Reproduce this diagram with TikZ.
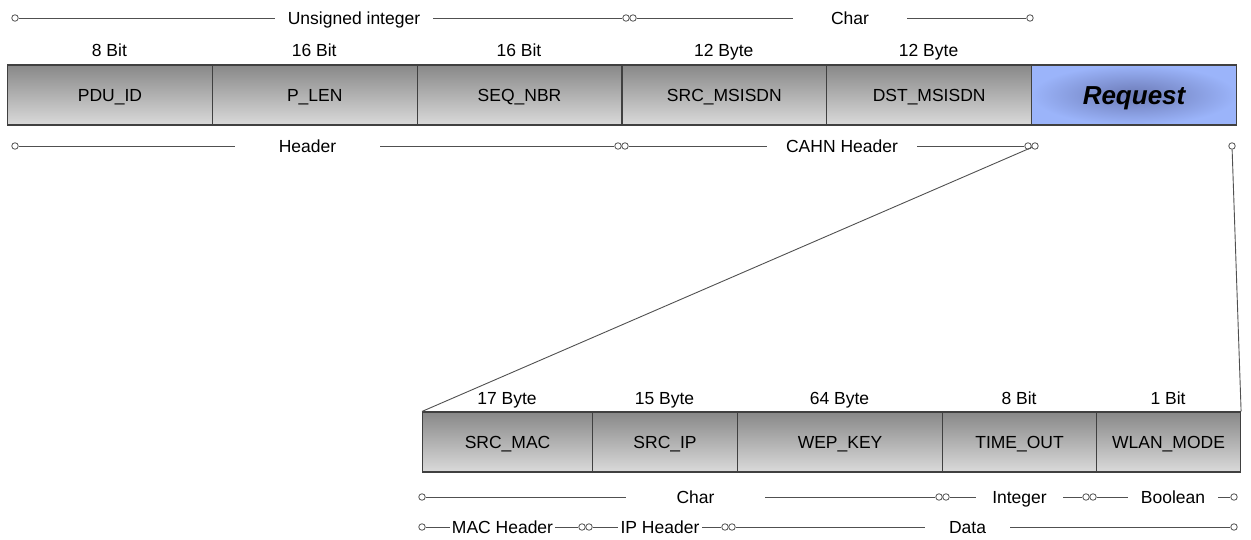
\documentclass[tikz,border=0pt]{standalone}
\usepackage{fontspec}
\setmainfont{Liberation Sans}
\usetikzlibrary{positioning}
\definecolor{framegray}{RGB}{64,64,64}
\definecolor{rulegray}{RGB}{80,80,80}
\definecolor{fieldtop}{RGB}{136,136,136}
\definecolor{fieldbottom}{RGB}{218,218,218}
\definecolor{reqouter}{RGB}{155,180,250}
\definecolor{reqinner}{RGB}{108,122,182}

\begin{document}
\begin{tikzpicture}[x=1pt,y=-1pt,
field/.style={draw=framegray,line width=1.1pt,top color=fieldtop,bottom color=fieldbottom,
  minimum height=60pt,inner sep=0pt,anchor=west,text height=12.5pt,text depth=0pt,
  font=\fontsize{17.5}{20}\selectfont},
reqfield/.style={field,inner color=reqinner,outer color=reqouter,text height=18.6pt,
  font=\fontsize{26}{30}\selectfont\bfseries\itshape},
sizelbl/.style={anchor=base,inner sep=0pt,font=\fontsize{17.5}{20}\selectfont},
span/.style={inner sep=0pt,text height=12.5pt,text depth=0pt,font=\fontsize{17.5}{20}\selectfont},
pin/.style={circle,draw=rulegray,fill=white,line width=0.8pt,inner sep=0pt,minimum size=6.5pt},
link/.style={draw=rulegray,line width=0.9pt}]
\useasboundingbox (0,0) rectangle (1251,540);

\node[field,minimum width=204.8pt] (pduid) at (7,95) {PDU\_ID};
\node[field,minimum width=204.8pt] (plen) at (211.8,95) {P\_LEN};
\node[field,minimum width=204.8pt] (seqnbr) at (416.6,95) {SEQ\_NBR};
\node[field,minimum width=204.8pt] (srcmsisdn) at (621.4,95) {SRC\_MSISDN};
\node[field,minimum width=204.8pt] (dstmsisdn) at (826.2,95) {DST\_MSISDN};
\node[reqfield,minimum width=205pt] (request) at (1031,95) {Request};

\node[sizelbl] (pduidsz) at (109.4,57) {8 Bit};
\node[sizelbl] (plensz) at (314.2,57) {16 Bit};
\node[sizelbl] (seqnbrsz) at (519,57) {16 Bit};
\node[sizelbl] (srcmsisdnsz) at (723.8,57) {12 Byte};
\node[sizelbl] (dstmsisdnsz) at (928.6,57) {12 Byte};

\node[pin] (ui0) at (15,18) {};
\node[span,minimum width=158pt] (uilbl) at (354,18) {Unsigned integer};
\node[pin] (ui1) at (626,18) {};
\node[pin] (ch0) at (633,18) {};
\node[span,minimum width=114pt] (chlbl) at (850,18) {Char};
\node[pin] (ch1) at (1030,18) {};
\draw[link] (ui0) -- (uilbl) -- (ui1);
\draw[link] (ch0) -- (chlbl) -- (ch1);

\node[pin] (hd0) at (15,146) {};
\node[span,minimum width=145pt] (hdlbl) at (307.5,146) {Header};
\node[pin] (hd1) at (618,146) {};
\node[pin] (ca0) at (625,146) {};
\node[span,minimum width=150pt] (calbl) at (842,146) {CAHN Header};
\node[pin] (ca1) at (1028,146) {};
\node[pin] (rq0) at (1035,146) {};
\node[pin] (rq1) at (1232,146) {};
\draw[link] (hd0) -- (hdlbl) -- (hd1);
\draw[link] (ca0) -- (calbl) -- (ca1);

\node[field,minimum width=170pt] (srcmac) at (422,442) {SRC\_MAC};
\node[field,minimum width=145pt] (srcip) at (592,442) {SRC\_IP};
\node[field,minimum width=205pt] (wepkey) at (737,442) {WEP\_KEY};
\node[field,minimum width=154pt] (timeout) at (942,442) {TIME\_OUT};
\node[field,minimum width=144pt] (wlanmode) at (1096,442) {WLAN\_MODE};

\node[sizelbl] (srcmacsz) at (507,404) {17 Byte};
\node[sizelbl] (srcipsz) at (664.5,404) {15 Byte};
\node[sizelbl] (wepkeysz) at (839.5,404) {64 Byte};
\node[sizelbl] (timeoutsz) at (1019,404) {8 Bit};
\node[sizelbl] (wlanmodesz) at (1168,404) {1 Bit};

\draw[link] (rq0) -- (srcmac.north west);
\draw[link] (rq1) -- (wlanmode.north east);

\node[pin] (cc0) at (422,497) {};
\node[span,minimum width=139pt] (cclbl) at (695.5,497) {Char};
\node[pin] (cc1) at (939,497) {};
\node[pin] (in0) at (946,497) {};
\node[span,minimum width=87pt] (inlbl) at (1019.5,497) {Integer};
\node[pin] (in1) at (1086,497) {};
\node[pin] (bo0) at (1093,497) {};
\node[span,minimum width=90pt] (bolbl) at (1173,497) {Boolean};
\node[pin] (bo1) at (1234,497) {};
\draw[link] (cc0) -- (cclbl) -- (cc1);
\draw[link] (in0) -- (inlbl) -- (in1);
\draw[link] (bo0) -- (bolbl) -- (bo1);

\node[pin] (mh0) at (422,527) {};
\node[span,minimum width=105pt] (mhlbl) at (502.5,527) {MAC Header};
\node[pin] (mh1) at (582,527) {};
\node[pin] (ip0) at (589,527) {};
\node[span,minimum width=84pt] (iplbl) at (660,527) {IP Header};
\node[pin] (ip1) at (725,527) {};
\node[pin] (da0) at (732,527) {};
\node[span,minimum width=85pt] (dalbl) at (967.5,527) {Data};
\node[pin] (da1) at (1234,527) {};
\draw[link] (mh0) -- (mhlbl) -- (mh1);
\draw[link] (ip0) -- (iplbl) -- (ip1);
\draw[link] (da0) -- (dalbl) -- (da1);
\end{tikzpicture}
\end{document}
